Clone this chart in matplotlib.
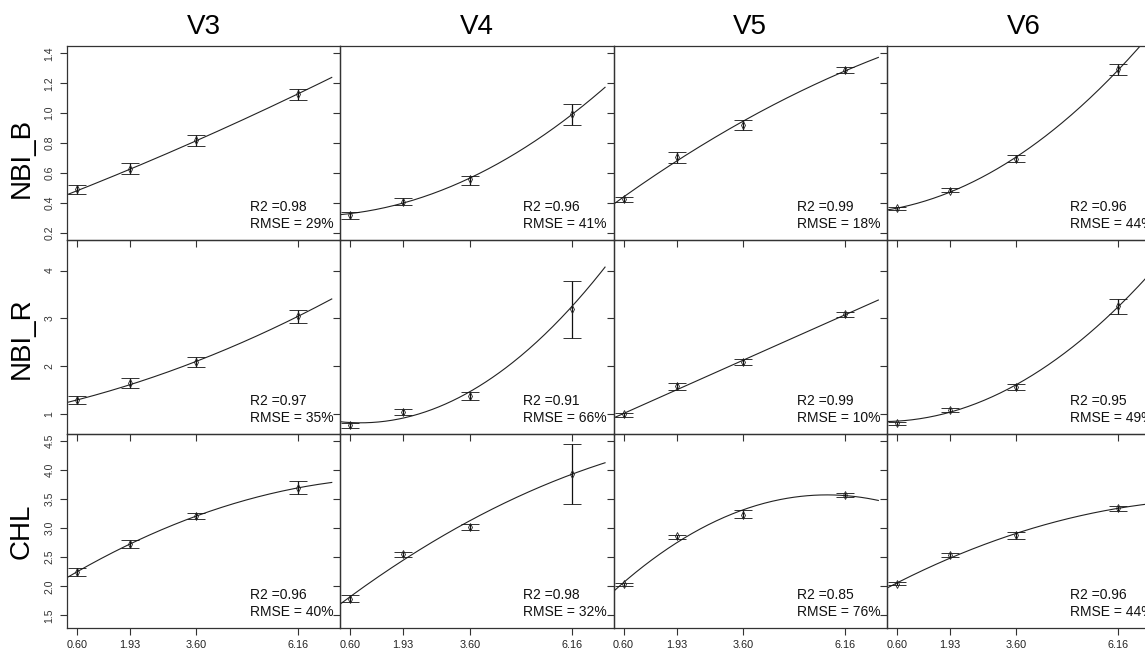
import numpy as np
import matplotlib
matplotlib.use("Agg")
import matplotlib.pyplot as plt

plt.rcParams['font.family'] = ['Liberation Sans', 'DejaVu Sans']

# x levels (shared by every panel)
x_levels = [0.60, 1.93, 3.60, 6.16]
x_labels = ['0.60', '1.93', '3.60', '6.16']
stages = ['V3', 'V4', 'V5', 'V6']
indices = ['NBI_B', 'NBI_R', 'CHL']

# NBI_B: means, error bar ends and fitted curve values at x_levels, per stage
nbib_mean = [[0.489, 0.627, 0.818, 1.129], [0.316, 0.407, 0.556, 0.991],
             [0.422, 0.709, 0.922, 1.289], [0.362, 0.482, 0.696, 1.293]]
nbib_lo = [[0.456, 0.591, 0.782, 1.089], [0.289, 0.382, 0.522, 0.920],
           [0.405, 0.669, 0.890, 1.269], [0.351, 0.469, 0.671, 1.258]]
nbib_hi = [[0.518, 0.667, 0.851, 1.164], [0.338, 0.431, 0.582, 1.062],
           [0.440, 0.742, 0.955, 1.309], [0.371, 0.496, 0.720, 1.327]]
nbib_fit = [[0.48, 0.625, 0.815, 1.13], [0.325, 0.405, 0.56, 0.99],
            [0.43, 0.70, 0.93, 1.285], [0.36, 0.48, 0.70, 1.29]]

# NBI_R
nbir_mean = [[1.289, 1.648, 2.077, 3.049], [0.775, 1.049, 1.373, 3.197],
             [0.993, 1.577, 2.085, 3.085], [0.810, 1.092, 1.570, 3.254]]
nbir_lo = [[1.204, 1.542, 1.986, 2.901], [0.704, 0.972, 1.289, 2.592],
           [0.944, 1.500, 2.014, 3.028], [0.775, 1.049, 1.500, 3.099]]
nbir_hi = [[1.366, 1.761, 2.183, 3.169], [0.810, 1.113, 1.458, 3.775],
           [1.021, 1.655, 2.155, 3.134], [0.838, 1.127, 1.627, 3.401]]
nbir_fit = [[1.28, 1.64, 2.08, 3.05], [0.80, 0.96, 1.43, 3.25],
            [0.99, 1.55, 2.09, 3.08], [0.83, 1.08, 1.58, 3.25]]

# CHL
chl_mean = [[2.253, 2.724, 3.213, 3.690], [1.787, 2.552, 3.023, 3.931],
            [2.034, 2.856, 3.230, 3.575], [2.046, 2.529, 2.874, 3.345]]
chl_lo = [[2.178, 2.655, 3.155, 3.586], [1.724, 2.506, 2.965, 3.420],
          [2.011, 2.816, 3.167, 3.540], [2.017, 2.494, 2.805, 3.287]]
chl_hi = [[2.316, 2.787, 3.264, 3.805], [1.851, 2.592, 3.063, 4.437],
          [2.057, 2.885, 3.305, 3.598], [2.069, 2.575, 2.925, 3.385]]
chl_fit = [[2.25, 2.72, 3.21, 3.69], [1.80, 2.50, 3.086, 3.93],
           [2.05, 2.78, 3.287, 3.563], [2.04, 2.52, 2.88, 3.345]]

r2_vals = [['0.98', '0.96', '0.99', '0.96'],
           ['0.97', '0.91', '0.99', '0.95'],
           ['0.96', '0.98', '0.85', '0.96']]
rmse_vals = [['29', '41', '18', '44'],
             ['35', '66', '10', '49'],
             ['40', '32', '76', '44']]

means = [nbib_mean, nbir_mean, chl_mean]
lows = [nbib_lo, nbir_lo, chl_lo]
highs = [nbib_hi, nbir_hi, chl_hi]
fits = [nbib_fit, nbir_fit, chl_fit]

row_ylim = [(0.151, 1.449), (0.58, 4.64), (1.283, 4.615)]
row_yticks = [[0.2, 0.4, 0.6, 0.8, 1.0, 1.2, 1.4], [1, 2, 3, 4],
              [1.5, 2.0, 2.5, 3.0, 3.5, 4.0, 4.5]]
row_ylabels = [['0.2', '0.4', '0.6', '0.8', '1.0', '1.2', '1.4'],
               ['1', '2', '3', '4'],
               ['1.5', '2.0', '2.5', '3.0', '3.5', '4.0', '4.5']]

W, H = 1145, 650
fig = plt.figure(figsize=(W / 100, H / 100), dpi=100)

left0, pw = 67, 273.3
top0, ph = 46, 194
xx = np.linspace(0.3, 7.0, 200)
edge = '#333333'

for r in range(3):
    for c in range(4):
        x0 = left0 + c * pw
        y0 = top0 + r * ph
        ax = fig.add_axes([x0 / W, 1 - (y0 + ph) / H, pw / W, ph / H])
        ax.set_facecolor('none')
        m = np.array(means[r][c])
        lo = np.array(lows[r][c])
        hi = np.array(highs[r][c])
        coef = np.polyfit(x_levels, fits[r][c], 2)
        ax.plot(xx, np.polyval(coef, xx), color='#222222', lw=0.8)
        ax.errorbar(x_levels, m, yerr=[m - lo, hi - m], fmt='d', ms=4,
                    mfc='none', mec='#222222', mew=0.6, ecolor='#111111',
                    elinewidth=0.9, capsize=6.5, capthick=0.9)
        ax.set_xlim(0.349, 7.215)
        ax.set_ylim(*row_ylim[r])
        ax.set_xticks(x_levels)
        ax.set_yticks(row_yticks[r])
        if r == 2:
            ax.set_xticklabels(x_labels, fontsize=7.8, color='#222222')
        else:
            ax.set_xticklabels([])
        if c == 0:
            ax.set_yticklabels(row_ylabels[r], fontsize=7.5, rotation=90,
                               va='center', color='#333333')
        else:
            ax.set_yticklabels([])
        ax.tick_params(direction='out', length=5, width=0.8, color=edge, pad=4)
        for s in ax.spines.values():
            s.set_color(edge)
            s.set_linewidth(0.9)
        ax.text(0.67, 0.17, 'R2 =' + r2_vals[r][c], transform=ax.transAxes,
                fontsize=10, va='center', ha='left', color='#111111')
        ax.text(0.67, 0.082, 'RMSE = ' + rmse_vals[r][c] + '%',
                transform=ax.transAxes, fontsize=10, va='center', ha='left',
                color='#111111')

for c, name in enumerate(stages):
    fig.text((left0 + (c + 0.5) * pw) / W, 1 - 27 / H, name, fontsize=20,
             ha='center', va='center')
label_y = [158, 338, 531]
for r, name in enumerate(indices):
    fig.text(22 / W, 1 - label_y[r] / H, name, fontsize=20,
             ha='center', va='center', rotation=90)

fig.savefig('out.png', dpi=100)
